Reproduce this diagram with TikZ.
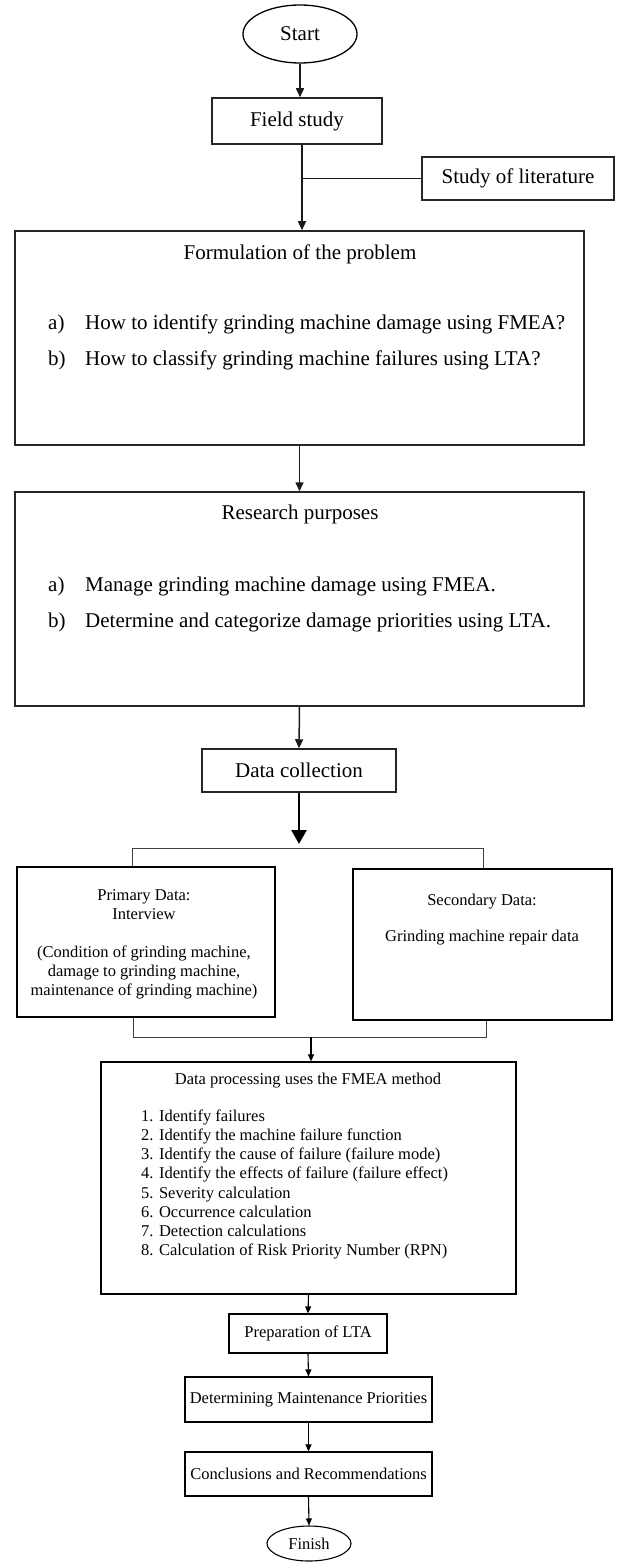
\documentclass[tikz,border=0pt]{standalone}
\usepackage{fontspec}
\setmainfont{Liberation Serif}
\usetikzlibrary{arrows.meta,shapes.geometric}
\begin{document}
\begin{tikzpicture}[x=1pt,y=-1pt,
  up/.style={font=\fontsize{21}{24}\selectfont},
  lo/.style={font=\fontsize{16.5}{19.1}\selectfont},
  ubox/.style={draw=black!85, line width=1.5pt, rectangle, inner sep=0pt, up},
  lbox/.style={draw=black, line width=1.2pt, rectangle, inner sep=0pt, lo},
  oval/.style={ellipse, draw=black, line width=1.3pt, inner sep=0pt},
  uarr/.style={line width=1.5pt, draw=black!90, -{Triangle[length=9pt,width=8pt]}},
  larr/.style={line width=1.1pt, -{Triangle[length=7pt,width=6pt]}},
  brk/.style={line width=0.9pt, draw=black!75},
  ut/.style={up, inner sep=0pt},
  lt/.style={lo, inner sep=0pt}
]
\useasboundingbox (0,0) rectangle (617,1562);

% upper part
\node[oval, up, minimum width=114pt, minimum height=58pt] (start) at (300,34) {Start};
\node[ubox, minimum width=170pt, minimum height=46pt] (field) at (297,121) {Field study};
\node[ubox, minimum width=192pt, minimum height=43pt] (lit) at (518,178.5) {Study of literature};

\node[ubox, minimum width=569pt, minimum height=214pt] (form) at (299.5,338) {};
\node[ut, anchor=mid] (formt) at (300,257) {Formulation of the problem};
\node[ut, anchor=mid west] (fa) at (48,327) {a)};
\node[ut, anchor=mid west] (fat) at (85,327) {How to identify grinding machine damage using FMEA?};
\node[ut, anchor=mid west] (fb) at (48,363) {b)};
\node[ut, anchor=mid west] (fbt) at (85,363) {How to classify grinding machine failures using LTA?};

\node[ubox, minimum width=569pt, minimum height=214pt] (res) at (299.5,599) {};
\node[ut, anchor=mid] (rest) at (300,517) {Research purposes};
\node[ut, anchor=mid west] (ra) at (48,589) {a)};
\node[ut, anchor=mid west] (rat) at (85,589) {Manage grinding machine damage using FMEA.};
\node[ut, anchor=mid west] (rb) at (48,625) {b)};
\node[ut, anchor=mid west] (rbt) at (85,625) {Determine and categorize damage priorities using LTA.};

\node[ubox, minimum width=194pt, minimum height=43pt] (dc) at (299,770.5) {Data collection};

% lower part
\node[lbox, minimum width=258pt, minimum height=150pt] (prim) at (146,942) {};
\node[lt, align=center] (primt) at (144,944.5) {Primary Data:\\Interview\\[19.1pt](Condition of grinding machine,\\damage to grinding machine,\\maintenance of grinding machine)};
\node[lbox, minimum width=259pt, minimum height=151pt] (sec) at (482.5,944.5) {};
\node[lt, align=center] (sect) at (482,919.5) {Secondary Data:\\[16pt]Grinding machine repair data};

\node[lbox, minimum width=415pt, minimum height=232pt] (fmea) at (308.5,1178) {};
\node[lt, anchor=mid] (fmeat) at (308,1082) {Data processing uses the FMEA method};
\node[lt, anchor=mid west] (f1) at (141,1119) {1. Identify failures};
\node[lt, anchor=mid west] (f2) at (141,1138) {2. Identify the machine failure function};
\node[lt, anchor=mid west] (f3) at (141,1157) {3. Identify the cause of failure (failure mode)};
\node[lt, anchor=mid west] (f4) at (141,1176) {4. Identify the effects of failure (failure effect)};
\node[lt, anchor=mid west] (f5) at (141,1196) {5. Severity calculation};
\node[lt, anchor=mid west] (f6) at (141,1215) {6. Occurrence calculation};
\node[lt, anchor=mid west] (f7) at (141,1234) {7. Detection calculations};
\node[lt, anchor=mid west] (f8) at (141,1253) {8. Calculation of Risk Priority Number (RPN)};

\node[lbox, minimum width=158pt, minimum height=39pt] (prep) at (308,1333.5) {Preparation of LTA};
\node[lbox, minimum width=247pt, minimum height=45pt] (det) at (308.5,1399.5) {Determining Maintenance Priorities};
\node[lbox, minimum width=247pt, minimum height=44pt] (conc) at (308.5,1474) {Conclusions and Recommendations};
\node[oval, lo, line width=1.1pt, minimum width=84pt, minimum height=35pt] (fin) at (309,1543.5) {Finish};

% connectors upper
\coordinate (fs) at ([xshift=5pt]field.south);
\draw[uarr] (start.south) -- (start.south |- field.north);
\draw[uarr] (fs) -- (fs |- form.north);
\draw[line width=1.5pt, draw=black!90] (lit.west) -- (lit.west -| fs);
\draw[uarr] (form.south) -- (res.north);
\draw[uarr] (res.south) -- (dc.north);
\coordinate (split) at (301,848);
\draw[line width=2.6pt, -{Triangle[length=14pt,width=15pt]}, shorten >=4pt] (dc.south) -- (dc.south |- split);

% brackets
\coordinate (tl) at (132,848);
\coordinate (tr) at (483,848);
\draw[brk] (tl |- prim.north) -- (tl) -- (tr) -- (tr |- sec.north);
\coordinate (bl) at (133,1037);
\coordinate (br) at (486,1037);
\draw[brk] (bl |- prim.south) -- (bl) -- (br) -- (br |- sec.south);
\coordinate (join) at (311,1037);
\draw[larr] (join) -- (join |- fmea.north);

% connectors lower
\draw[larr] (fmea.south) -- (prep.north);
\draw[larr] (prep.south) -- (det.north);
\draw[larr] (det.south) -- (conc.north);
\draw[larr] (conc.south) -- (fin.north);
\end{tikzpicture}
\end{document}
